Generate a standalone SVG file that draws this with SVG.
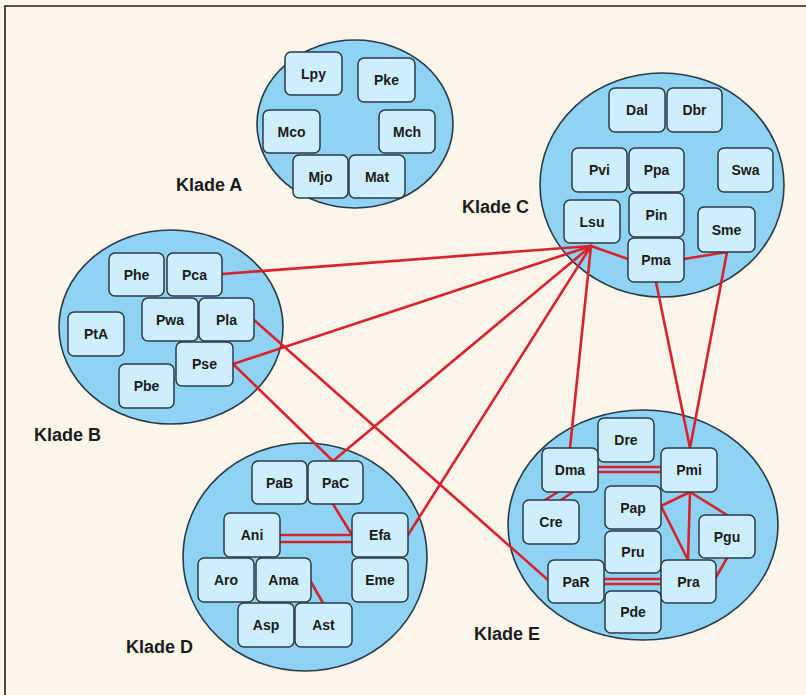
<svg xmlns="http://www.w3.org/2000/svg" width="806" height="695" viewBox="0 0 806 695">
<style>
.bg{fill:#fdf4ea}
.frame{fill:none;stroke:#1e1e1e;stroke-width:1.6}
.clade{fill:#8fd3f4;stroke:#2b3a45;stroke-width:1.6}
.n{fill:#cdeefc;stroke:#2c3a44;stroke-width:1.5}
.t{font-family:"Liberation Sans",Arial,sans-serif;font-weight:bold;font-size:14px;fill:#1b1b1b;text-anchor:middle;dominant-baseline:central}
.lbl{font-family:"Liberation Sans",Arial,sans-serif;font-weight:bold;font-size:18px;fill:#1b1b1b}
.e{fill:none;stroke:#d8222c;stroke-width:2.6;stroke-linejoin:round;stroke-linecap:round}
</style>
<rect class="bg" x="0" y="0" width="806" height="695"/>
<path class="frame" d="M5,695 V6 H806"/>

<g id="cladeA"><ellipse class="clade" cx="355" cy="124" rx="98" ry="84"/><text class="lbl" x="176" y="191">Klade A</text></g>
<g id="cladeB"><ellipse class="clade" cx="171" cy="327" rx="112" ry="97"/><text class="lbl" x="34" y="441">Klade B</text></g>
<g id="cladeC"><ellipse class="clade" cx="662" cy="185" rx="122" ry="112"/><text class="lbl" x="462" y="213">Klade C</text></g>
<g id="cladeD"><ellipse class="clade" cx="305" cy="557" rx="122" ry="114"/><text class="lbl" x="126" y="653">Klade D</text></g>
<g id="cladeE"><ellipse class="clade" cx="643" cy="525" rx="135" ry="115"/><text class="lbl" x="474" y="640">Klade E</text></g>

<g id="connectors">
<line class="e" x1="222" y1="274" x2="591" y2="246"/>
<line class="e" x1="233" y1="364" x2="591" y2="246"/>
<line class="e" x1="333" y1="461" x2="591" y2="246"/>
<line class="e" x1="408" y1="535" x2="591" y2="246"/>
<line class="e" x1="570" y1="448" x2="591" y2="246"/>
<line class="e" x1="591" y1="246" x2="628" y2="259"/>
<polyline class="e" points="684,259 727,252 690,448"/>
<line class="e" x1="656" y1="282" x2="690" y2="448"/>
<line class="e" x1="233" y1="364" x2="333" y2="461"/>
<line class="e" x1="254" y1="320" x2="548" y2="580"/>
<line class="e" x1="333" y1="504" x2="352" y2="535"/>
<line class="e" x1="280" y1="535" x2="352" y2="535"/>
<line class="e" x1="280" y1="542" x2="352" y2="542"/>
<line class="e" x1="311" y1="582" x2="323" y2="603"/>
<line class="e" x1="598" y1="467" x2="661" y2="467"/>
<line class="e" x1="598" y1="472" x2="661" y2="472"/>
<line class="e" x1="558" y1="492" x2="545" y2="500"/>
<line class="e" x1="573" y1="492" x2="561" y2="500"/>
<line class="e" x1="690" y1="492" x2="661" y2="506"/>
<line class="e" x1="690" y1="492" x2="688" y2="560"/>
<line class="e" x1="690" y1="492" x2="727" y2="515"/>
<line class="e" x1="661" y1="506" x2="688" y2="560"/>
<line class="e" x1="727" y1="558" x2="715" y2="579"/>
<line class="e" x1="604" y1="579" x2="661" y2="579"/>
<line class="e" x1="604" y1="584" x2="661" y2="584"/>
</g>

<g id="Lpy"><rect class="n" x="285" y="52" width="57" height="43" rx="6"/><text class="t" x="313.5" y="73.5">Lpy</text></g>
<g id="Pke"><rect class="n" x="358" y="58" width="57" height="44" rx="6"/><text class="t" x="386.5" y="80">Pke</text></g>
<g id="Mco"><rect class="n" x="263" y="110" width="57" height="43" rx="6"/><text class="t" x="291.5" y="131.5">Mco</text></g>
<g id="Mch"><rect class="n" x="379" y="110" width="56" height="43" rx="6"/><text class="t" x="407" y="131.5">Mch</text></g>
<g id="Mjo"><rect class="n" x="293" y="155" width="55" height="43" rx="6"/><text class="t" x="320.5" y="176.5">Mjo</text></g>
<g id="Mat"><rect class="n" x="349" y="155" width="56" height="43" rx="6"/><text class="t" x="377" y="176.5">Mat</text></g>

<g id="Dal"><rect class="n" x="609" y="88" width="56" height="44" rx="6"/><text class="t" x="637" y="110">Dal</text></g>
<g id="Dbr"><rect class="n" x="667" y="88" width="55" height="44" rx="6"/><text class="t" x="694.5" y="110">Dbr</text></g>
<g id="Pvi"><rect class="n" x="572" y="148" width="55" height="44" rx="6"/><text class="t" x="599.5" y="170">Pvi</text></g>
<g id="Ppa"><rect class="n" x="629" y="148" width="55" height="44" rx="6"/><text class="t" x="656.5" y="170">Ppa</text></g>
<g id="Swa"><rect class="n" x="718" y="148" width="55" height="44" rx="6"/><text class="t" x="745.5" y="170">Swa</text></g>
<g id="Lsu"><rect class="n" x="564" y="200" width="56" height="43" rx="6"/><text class="t" x="592" y="221.5">Lsu</text></g>
<g id="Pin"><rect class="n" x="629" y="193" width="55" height="44" rx="6"/><text class="t" x="656.5" y="215">Pin</text></g>
<g id="Sme"><rect class="n" x="698" y="207" width="57" height="45" rx="6"/><text class="t" x="726.5" y="229.5">Sme</text></g>
<g id="Pma"><rect class="n" x="628" y="238" width="56" height="44" rx="6"/><text class="t" x="656" y="260">Pma</text></g>

<g id="Phe"><rect class="n" x="109" y="253" width="55" height="43" rx="6"/><text class="t" x="136.5" y="274.5">Phe</text></g>
<g id="Pca"><rect class="n" x="167" y="253" width="55" height="43" rx="6"/><text class="t" x="194.5" y="274.5">Pca</text></g>
<g id="Pwa"><rect class="n" x="142" y="298" width="56" height="43" rx="6"/><text class="t" x="170" y="319.5">Pwa</text></g>
<g id="Pla"><rect class="n" x="199" y="298" width="55" height="43" rx="6"/><text class="t" x="226.5" y="319.5">Pla</text></g>
<g id="PtA"><rect class="n" x="68" y="312" width="56" height="44" rx="6"/><text class="t" x="96" y="334">PtA</text></g>
<g id="Pse"><rect class="n" x="176" y="342" width="57" height="44" rx="6"/><text class="t" x="204.5" y="364">Pse</text></g>
<g id="Pbe"><rect class="n" x="119" y="364" width="55" height="44" rx="6"/><text class="t" x="146.5" y="386">Pbe</text></g>

<g id="PaB"><rect class="n" x="252" y="461" width="55" height="43" rx="6"/><text class="t" x="279.5" y="482.5">PaB</text></g>
<g id="PaC"><rect class="n" x="308" y="461" width="55" height="43" rx="6"/><text class="t" x="335.5" y="482.5">PaC</text></g>
<g id="Ani"><rect class="n" x="224" y="513" width="56" height="44" rx="6"/><text class="t" x="252" y="535">Ani</text></g>
<g id="Efa"><rect class="n" x="352" y="513" width="56" height="44" rx="6"/><text class="t" x="380" y="535">Efa</text></g>
<g id="Aro"><rect class="n" x="198" y="558" width="56" height="44" rx="6"/><text class="t" x="226" y="580">Aro</text></g>
<g id="Ama"><rect class="n" x="256" y="558" width="55" height="44" rx="6"/><text class="t" x="283.5" y="580">Ama</text></g>
<g id="Eme"><rect class="n" x="352" y="558" width="56" height="44" rx="6"/><text class="t" x="380" y="580">Eme</text></g>
<g id="Asp"><rect class="n" x="238" y="603" width="56" height="44" rx="6"/><text class="t" x="266" y="625">Asp</text></g>
<g id="Ast"><rect class="n" x="295" y="603" width="57" height="44" rx="6"/><text class="t" x="323.5" y="625">Ast</text></g>

<g id="Dre"><rect class="n" x="598" y="418" width="56" height="44" rx="6"/><text class="t" x="626" y="440">Dre</text></g>
<g id="Dma"><rect class="n" x="542" y="448" width="56" height="44" rx="6"/><text class="t" x="570" y="470">Dma</text></g>
<g id="Pmi"><rect class="n" x="661" y="448" width="56" height="44" rx="6"/><text class="t" x="689" y="470">Pmi</text></g>
<g id="Cre"><rect class="n" x="523" y="500" width="56" height="44" rx="6"/><text class="t" x="551" y="522">Cre</text></g>
<g id="Pap"><rect class="n" x="605" y="486" width="56" height="43" rx="6"/><text class="t" x="633" y="507.5">Pap</text></g>
<g id="Pgu"><rect class="n" x="699" y="515" width="56" height="43" rx="6"/><text class="t" x="727" y="536.5">Pgu</text></g>
<g id="Pru"><rect class="n" x="605" y="531" width="56" height="42" rx="6"/><text class="t" x="633" y="552">Pru</text></g>
<g id="PaR"><rect class="n" x="548" y="560" width="56" height="43" rx="6"/><text class="t" x="576" y="581.5">PaR</text></g>
<g id="Pra"><rect class="n" x="661" y="560" width="55" height="43" rx="6"/><text class="t" x="688.5" y="581.5">Pra</text></g>
<g id="Pde"><rect class="n" x="605" y="591" width="56" height="42" rx="6"/><text class="t" x="633" y="612">Pde</text></g>
</svg>
